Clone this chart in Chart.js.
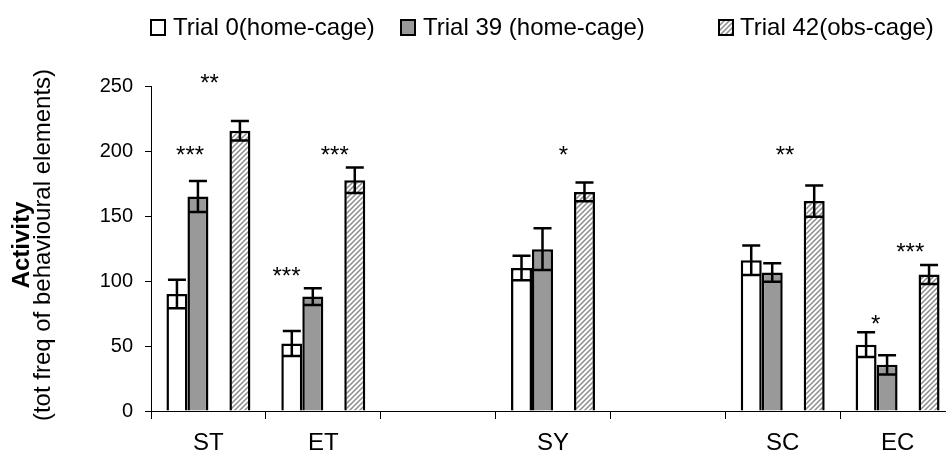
<!DOCTYPE html>
<html>
<head>
<meta charset="utf-8">
<script src="https://cdn.jsdelivr.net/npm/chart.js@4"></script>
<style>
  html, body { margin: 0; padding: 0; overflow: hidden; background: #fff; }
  canvas { display: block; }
</style>
</head>
<body>
<canvas id="c" width="962" height="454"></canvas>
<script>
// Behavioural categories (empty slots keep the gaps between groups)
const categories = ['ST', 'ET', '', 'SY', '', 'SC', 'EC'];

// Mean activity per trial
const trial0  = [90,    52,    null, 110,   null, 116,   51];
const trial39 = [165,   88,    null, 124.5, null, 106.5, 35.5];
const trial42 = [215.5, 177.5, null, 168.5, null, 161.5, 105];

// Error (±) per trial
const trial0Err  = [11,   9.6, null, 9.5, null, 11.3, 9.5];
const trial39Err = [12,   6.4, null, 16,  null, 7.1,  7.4];
const trial42Err = [7.5,  9.8, null, 7.2, null, 12,   7.3];

const seriesNames = ['Trial 0(home-cage)', 'Trial 39 (home-cage)', 'Trial 42(obs-cage)'];
const yTicks = [0, 50, 100, 150, 200, 250];

// Significance marks: category index, text, horizontal shift (fraction of a category), height in axis units
const significance = [
  { cat: 0, text: '***', shift: -0.16, level: 201 },
  { cat: 0, text: '**',  shift: 0.01,  level: 257 },
  { cat: 1, text: '***', shift: -0.32, level: 108.5 },
  { cat: 1, text: '***', shift: 0.10,  level: 201 },
  { cat: 3, text: '*',   shift: 0.09,  level: 201 },
  { cat: 5, text: '**',  shift: 0.02,  level: 201 },
  { cat: 6, text: '*',   shift: -0.19, level: 71.3 },
  { cat: 6, text: '***', shift: 0.11,  level: 127 }
];

const FONT = '"Liberation Sans", Arial, sans-serif';
const canvas = document.getElementById('c');
const ctx = canvas.getContext('2d');

function hatchPattern() {
  const p = document.createElement('canvas');
  p.width = 5; p.height = 5;
  const g = p.getContext('2d');
  g.fillStyle = '#ffffff';
  g.fillRect(0, 0, 5, 5);
  g.strokeStyle = '#8c8c8c';
  g.lineWidth = 1.5;
  g.beginPath();
  g.moveTo(-1, 6); g.lineTo(6, -1);
  g.moveTo(-3.5, 3.5); g.lineTo(3.5, -3.5);
  g.moveTo(1.5, 8.5); g.lineTo(8.5, 1.5);
  g.stroke();
  return ctx.createPattern(p, 'repeat');
}
const hatch = hatchPattern();

const fills = ['#ffffff', '#999999', hatch];
const errors = [trial0Err, trial39Err, null, trial42Err];

// Error bars drawn on top of the bars
const errorBars = {
  id: 'errorBars',
  afterDatasetsDraw(chart) {
    const c = chart.ctx;
    const y = chart.scales.y;
    c.save();
    c.strokeStyle = '#000';
    c.lineWidth = 2.5;
    chart.data.datasets.forEach((ds, di) => {
      const err = errors[di];
      if (!err) return;
      const meta = chart.getDatasetMeta(di);
      meta.data.forEach((bar, i) => {
        const v = ds.data[i];
        if (v == null || err[i] == null) return;
        const yHi = y.getPixelForValue(v + err[i]);
        const yLo = y.getPixelForValue(v - err[i]);
        const half = 9;
        c.beginPath();
        c.moveTo(bar.x, yHi); c.lineTo(bar.x, yLo);
        c.moveTo(bar.x - half, yHi); c.lineTo(bar.x + half, yHi);
        c.moveTo(bar.x - half, yLo); c.lineTo(bar.x + half, yLo);
        c.stroke();
      });
    });
    c.restore();
  }
};

// Significance asterisks
const starMarks = {
  id: 'starMarks',
  afterDatasetsDraw(chart) {
    const c = chart.ctx;
    const x = chart.scales.x, y = chart.scales.y;
    const catW = (chart.chartArea.right - chart.chartArea.left) / categories.length;
    c.save();
    c.fillStyle = '#000';
    c.font = '24px ' + FONT;
    c.textAlign = 'center';
    c.textBaseline = 'alphabetic';
    significance.forEach(s => {
      const px = x.getPixelForValue(s.cat) + s.shift * catW;
      const py = y.getPixelForValue(s.level) + 0.57 * 24;
      c.fillText(s.text, px, py);
    });
    c.restore();
  }
};

// Legend across the top and the two-line y-axis title
const decorations = {
  id: 'decorations',
  afterDraw(chart) {
    const c = chart.ctx;
    c.save();
    const items = [
      { box: 151, text: 173 },
      { box: 401, text: 423 },
      { box: 719, text: 740 }
    ];
    items.forEach((it, i) => {
      c.fillStyle = fills[i];
      c.fillRect(it.box, 20, 14, 15);
      c.strokeStyle = '#000';
      c.lineWidth = 2;
      c.strokeRect(it.box, 20, 14, 15);
      c.fillStyle = '#000';
      c.font = '24px ' + FONT;
      c.textAlign = 'left';
      c.textBaseline = 'middle';
      c.fillText(seriesNames[i], it.text, 28);
    });

    c.translate(0, 245);
    c.rotate(-Math.PI / 2);
    c.textAlign = 'center';
    c.textBaseline = 'middle';
    c.fillStyle = '#000';
    c.font = 'bold 24px ' + FONT;
    c.fillText('Activity', 0, 22);
    c.font = '24px ' + FONT;
    c.fillText('(tot freq of behavioural elements)', 0, 43);
    c.restore();
  }
};

new Chart(canvas, {
  type: 'bar',
  data: {
    labels: categories,
    datasets: [
      { label: seriesNames[0], data: trial0,  backgroundColor: fills[0], borderColor: '#000', borderWidth: 2.5 },
      { label: seriesNames[1], data: trial39, backgroundColor: fills[1], borderColor: '#000', borderWidth: 2.5 },
      { label: '', data: categories.map(() => null), backgroundColor: 'rgba(0,0,0,0)', borderWidth: 0 },
      { label: seriesNames[2], data: trial42, backgroundColor: fills[2], borderColor: '#000', borderWidth: 2.5 }
    ]
  },
  options: {
    responsive: false,
    animation: false,
    devicePixelRatio: 1,
    layout: { padding: { top: 86, right: 7, left: 0, bottom: 0 } },
    categoryPercentage: 0.731,
    barPercentage: 1,
    plugins: { legend: { display: false }, tooltip: { enabled: false } },
    scales: {
      x: {
        grid: { offset: true, drawOnChartArea: false, tickLength: 8, tickColor: '#000', tickWidth: 1 },
        border: { color: '#000', width: 1 },
        ticks: { color: '#000', font: { family: FONT, size: 24 }, padding: 10, maxRotation: 0, autoSkip: false },
        afterFit(s) { s.height = 43; }
      },
      y: {
        min: 0,
        max: 250,
        afterBuildTicks(s) { s.ticks = yTicks.map(v => ({ value: v })); },
        grid: { drawOnChartArea: false, tickLength: 6, tickColor: '#000', tickWidth: 1 },
        border: { color: '#000', width: 1 },
        ticks: { color: '#000', font: { family: FONT, size: 20 }, padding: 12 },
        afterFit(s) { s.width = 151; }
      }
    }
  },
  plugins: [errorBars, starMarks, decorations]
});
</script>
</body>
</html>
